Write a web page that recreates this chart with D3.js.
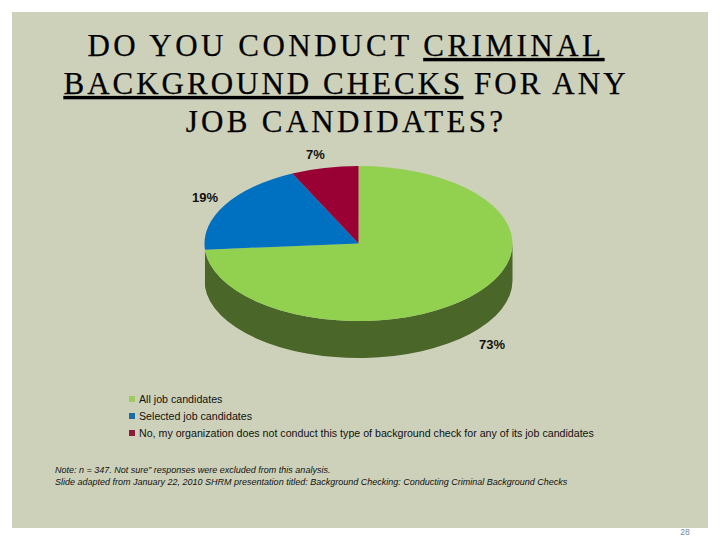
<!DOCTYPE html>
<html><head><meta charset="utf-8">
<script src="https://cdn.jsdelivr.net/npm/d3@7"></script>
<style>
html,body{margin:0;padding:0;background:#fff}
svg{display:block}
text{font-family:"Liberation Sans",Arial,sans-serif}
</style></head><body>
<svg id="c" width="720" height="540"></svg>
<script>
const categories = ["All job candidates","Selected job candidates","No, my organization does not conduct this type of background check for any of its job candidates"];
const values = [73,19,7];
const colors = ["#92D050","#0070C0","#990033"];
const legendColors = ["#9CCB5E","#1A6EA8","#8E1B3A"];
const sideColors = ["#4A6628"];
const notes = ["Note: n = 347. Not sure\u201d responses were excluded from this analysis.","Slide adapted from January 22, 2010 SHRM presentation titled: Background Checking: Conducting Criminal Background Checks"];
const pageNumber = "28";

const svg = d3.select("#c");
svg.append("rect").attr("x",12).attr("y",12).attr("width",696).attr("height",516).attr("fill","#CDD1BA");

// title
const titleLines = [
 {y:56,sp:3.5,parts:[["DO YOU CONDUCT ",false],["CRIMINAL",true]]},
 {y:94,sp:3.0,parts:[["BACKGROUND CHECKS",true],[" FOR ANY",false]]},
 {y:132,sp:3.3,parts:[["JOB CANDIDATES?",false]]}
];
titleLines.forEach(l=>{
  const t = svg.append("text").attr("x",346).attr("y",l.y).attr("text-anchor","middle")
    .style("font-family",'"Liberation Serif",serif').style("font-size","31px").style("letter-spacing",l.sp+"px")
    .style("white-space","pre").attr("fill","#000").attr("stroke","#000").attr("stroke-width",0.25);
  l.parts.forEach(p=>t.append("tspan").text(p[0]).attr("text-decoration",p[1]?"underline":null));
});

// pie
const cx=358.5, cy=243.5, rx=154, ry=77.5, depth=37;
const pie = d3.pie().sort(null).value(d=>d);
const arcs = pie(values);
const arc = d3.arc().innerRadius(0).outerRadius(rx);
const px = a=>cx+rx*Math.sin(a), py = a=>cy-ry*Math.cos(a);

// side wall of the front slice
const a0=Math.PI/2, a1=arcs[0].endAngle;
svg.append("path").attr("fill",sideColors[0]).attr("d",
 `M${px(a0)},${py(a0)}A${rx},${ry} 0 0 1 ${px(a1)},${py(a1)}L${px(a1)},${py(a1)+depth}A${rx},${ry} 0 0 0 ${px(a0)},${py(a0)+depth}Z`);

const g = svg.append("g").attr("transform",`translate(${cx},${cy}) scale(1,${ry/rx})`);
g.selectAll("path").data(arcs).join("path").attr("d",arc).attr("fill",(d,i)=>colors[i]);

// value labels
const labelNudge = [[0,2],[4,0],[-3,0]];
svg.selectAll("text.v").data(arcs).join("text").attr("class","v")
 .attr("x",(d,i)=>{const m=(d.startAngle+d.endAngle)/2;return cx+1.18*rx*Math.sin(m)+labelNudge[i][0]})
 .attr("y",(d,i)=>{const m=(d.startAngle+d.endAngle)/2;const c=Math.cos(m);return cy-1.18*ry*c+(c<0?depth:0)+4.5+labelNudge[i][1]})
 .attr("text-anchor","middle").style("font-size","13px").style("font-weight","bold").attr("fill","#111")
 .text(d=>d.value+"%");

// legend
const ly = d3.scalePoint().domain(categories).range([399,433]);
svg.selectAll("rect.k").data(categories).join("rect").attr("class","k")
 .attr("x",129).attr("y",d=>ly(d)-3).attr("width",6).attr("height",6).attr("fill",(d,i)=>legendColors[i]);
svg.selectAll("text.k").data(categories).join("text").attr("class","k")
 .attr("x",139).attr("y",d=>ly(d)+3.5).style("font-size","10.65px").attr("fill","#111").text(d=>d);

// notes
svg.selectAll("text.n").data(notes).join("text").attr("class","n")
 .attr("x",55).attr("y",(d,i)=>473+i*12).style("font-size","9px").style("font-style","italic").attr("fill","#111").text(d=>d);

svg.append("text").attr("x",685).attr("y",534.5).attr("text-anchor","middle").style("font-size","8.5px").attr("fill","#6F8BA5").text(pageNumber);
</script>
</body></html>
